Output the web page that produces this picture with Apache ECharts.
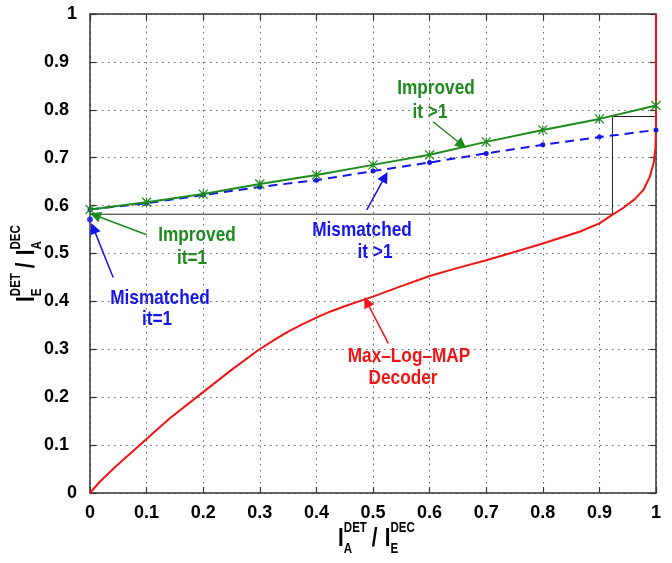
<!DOCTYPE html>
<html>
<head>
<meta charset="utf-8">
<script src="https://cdn.jsdelivr.net/npm/echarts@6/dist/echarts.min.js"></script>
<style>
  html, body { margin: 0; padding: 0; background: #fff; }
  #chart { width: 672px; height: 563px; }
</style>
</head>
<body>
<div id="chart"></div>
<script>
// EXIT chart data
const iterX = [0, 0.1, 0.2, 0.3, 0.4, 0.5, 0.6, 0.7, 0.8, 0.9, 1.0]
const improvedY = [0.592, 0.607, 0.624, 0.645, 0.664, 0.685, 0.706, 0.733, 0.758, 0.781, 0.809]
const mismatchedY = [0.592, 0.605, 0.622, 0.639, 0.653, 0.672, 0.690, 0.709, 0.727, 0.743, 0.758]
const mismatchedFirst = [[0, 0.571]]

// Max-Log-MAP decoder curve (axes swapped)
const decoderCurve = [
  [0, 0], [0.0177, 0.024], [0.045, 0.055], [0.088, 0.1], [0.14, 0.155], [0.197, 0.208],
  [0.25, 0.257], [0.297, 0.298], [0.325, 0.319], [0.35, 0.337], [0.375, 0.352], [0.4, 0.366],
  [0.425, 0.379], [0.45, 0.39], [0.475, 0.4], [0.5, 0.41], [0.55, 0.432], [0.6, 0.453],
  [0.65, 0.47], [0.7, 0.486], [0.75, 0.503], [0.8, 0.521], [0.866, 0.546], [0.9, 0.563],
  [0.922, 0.58], [0.942, 0.595], [0.962, 0.613], [0.978, 0.633], [0.989, 0.66], [0.996, 0.69],
  [0.999, 0.72], [1.0, 0.76], [1.0, 0.85], [1.0, 1.0]
]

// decoding trajectory (staircase)
const trajectory = [[0, 0.582], [0.923, 0.582], [0.923, 0.786], [1.0, 0.786]]

const GREEN = '#1c8a1c'
const BLUE = '#1414f0'
const RED = '#f01414'
const FONT = "'Liberation Sans', Arial, sans-serif"
const NARROW = 0.82

const chart = echarts.init(document.getElementById('chart'))

function arrow(from, to) {
  return [{ coord: from }, { coord: to }]
}

function arrowLines(color, list) {
  return {
    silent: true, symbol: ['none', 'triangle'], symbolSize: 11,
    label: { show: false }, lineStyle: { color, width: 1.5, type: 'solid' },
    itemStyle: { color },
    emphasis: { disabled: true },
    data: list
  }
}

function axisBase(pos, labels) {
  return {
    type: 'value', min: 0, max: 1, interval: 0.1, position: pos,
    axisLine: { show: true, onZero: false, lineStyle: { color: '#333', width: 1.5 } },
    axisTick: { show: true, inside: true, length: 6, lineStyle: { color: '#333', width: 1.2 } },
    splitLine: { show: false },
    axisLabel: { show: labels }
  }
}

// axis name built from pieces: I with stacked super/subscripts
function axisName(x, y, rot, supA, subA, supB, subB) {
  const big = 'bold 25px ' + FONT
  const small = 'bold 14px ' + FONT
  const t = (tx, ty, text, font) => ({
    type: 'text', x: tx, y: ty,
    style: { text, font, fill: '#000', textAlign: 'left', textVerticalAlign: 'middle' }
  })
  return {
    type: 'group', x, y, rotation: rot, scaleX: NARROW,
    children: [
      t(-45, 0, 'I', big), t(-38, -11, supA, small), t(-38, 10, subA, small),
      t(-4, 0, '/', big),
      t(12, 0, 'I', big), t(19, -11, supB, small), t(19, 10, subB, small)
    ]
  }
}

function note(x, y, text, color) {
  return {
    type: 'text', x, y, silent: true, scaleX: NARROW,
    style: { text, font: 'bold 21px ' + FONT, fill: color, textAlign: 'center', textVerticalAlign: 'middle' }
  }
}

const tickFont = { color: '#000', fontSize: 18, fontWeight: 'bold', fontFamily: FONT }
const gridDots = { show: true, lineStyle: { color: '#666', width: 1, type: [1.5, 4.5] } }

const xLower = axisBase('bottom', true)
xLower.splitLine = gridDots
xLower.axisLabel = Object.assign({ show: true, margin: 11 }, tickFont)
const yLeft = axisBase('left', true)
yLeft.splitLine = gridDots
yLeft.axisLabel = Object.assign({
  show: true, margin: 13,
  formatter: v => (v === 0 || v === 1) ? '{i|' + v + '}' : '{d|' + v + '}',
  rich: {
    i: Object.assign({}, tickFont),
    d: Object.assign({ padding: [0, 8, 0, 0] }, tickFont)
  }
}, tickFont)

chart.setOption({
  animation: false,
  backgroundColor: '#fff',
  grid: { left: 90, right: 16, top: 14, bottom: 70 },
  xAxis: [xLower, axisBase('top', false)],
  yAxis: [yLeft, axisBase('right', false)],
  series: [
    {
      name: 'Max-Log-MAP Decoder', type: 'line', data: decoderCurve,
      showSymbol: false, symbol: 'none', z: 3,
      lineStyle: { color: RED, width: 2 },
      markLine: arrowLines(RED, [arrow([0.527, 0.3125], [0.489, 0.399])])
    },
    {
      name: 'trajectory', type: 'line', data: trajectory, symbol: 'none', z: 2,
      lineStyle: { color: '#222', width: 1 }
    },
    {
      name: 'Mismatched', type: 'line', data: iterX.map((x, i) => [x, mismatchedY[i]]),
      symbol: 'circle', symbolSize: 5, z: 4,
      itemStyle: { color: BLUE },
      lineStyle: { color: BLUE, width: 2, type: [9, 6] },
      markLine: arrowLines(BLUE, [
        arrow([0.041, 0.450], [0.006, 0.553]),
        arrow([0.489, 0.591], [0.521, 0.660])
      ])
    },
    {
      name: 'Mismatched it=1', type: 'scatter', data: mismatchedFirst,
      symbol: 'circle', symbolSize: 6, z: 4, itemStyle: { color: BLUE }
    },
    {
      name: 'Improved', type: 'line', data: iterX.map((x, i) => [x, improvedY[i]]),
      symbol: 'path://M0,0L10,10M10,0L0,10M5,0L5,10', symbolSize: 9, z: 5,
      itemStyle: { color: 'rgba(0,0,0,0)', borderColor: GREEN, borderWidth: 1.2 },
      lineStyle: { color: GREEN, width: 2 },
      markLine: arrowLines(GREEN, [
        arrow([0.100, 0.539], [0.009, 0.580]),
        arrow([0.606, 0.775], [0.657, 0.727])
      ])
    }
  ],
  graphic: [
    axisName(375, 539, 0, 'DET', 'A', 'DEC', 'E'),
    axisName(27, 265, Math.PI / 2, 'DET', 'E', 'DEC', 'A'),
    note(436, 88, 'Improved', GREEN),
    note(430, 112, 'it >1', GREEN),
    note(197, 235, 'Improved', GREEN),
    note(192, 258, 'it=1', GREEN),
    note(160, 298, 'Mismatched', BLUE),
    note(157, 319, 'it=1', BLUE),
    note(362, 230, 'Mismatched', BLUE),
    note(375, 252, 'it >1', BLUE),
    note(409, 356, 'Max\u2013Log\u2013MAP', RED),
    note(403, 378, 'Decoder', RED)
  ]
})
</script>
</body>
</html>
